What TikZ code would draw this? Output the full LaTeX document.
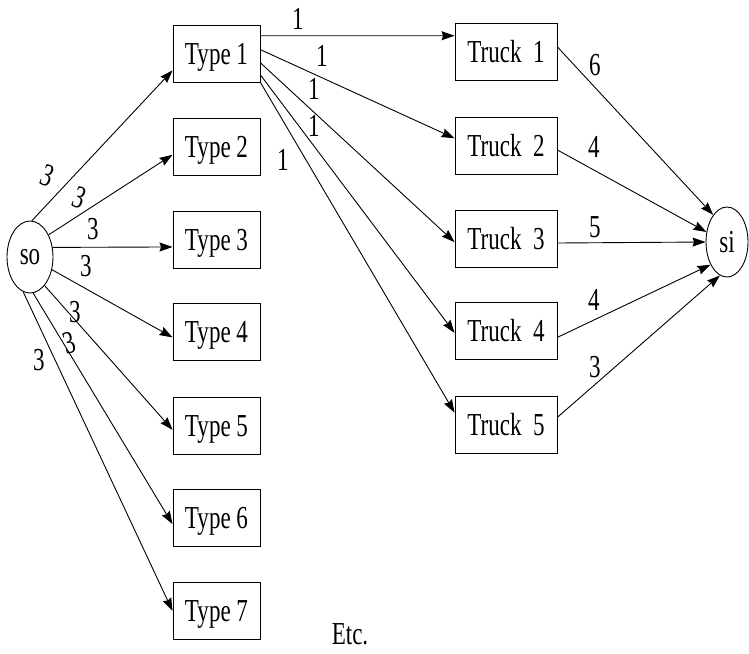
\documentclass[tikz,border=0pt]{standalone}
\usepackage{fontspec}
\setmainfont{Liberation Serif}[FakeStretch=0.72]
\usetikzlibrary{shapes.geometric,arrows.meta}

\begin{document}
\begin{tikzpicture}[x=1pt,y=-1pt,
  font=\fontsize{32}{34}\selectfont,
  typebox/.style={draw,line width=0.9pt,minimum width=87pt,minimum height=57pt,inner sep=0pt,text depth=0pt},
  truckbox/.style={draw,line width=0.9pt,minimum width=102pt,minimum height=57pt,inner sep=0pt},
  endpt/.style={draw,ellipse,line width=0.9pt,inner sep=0pt},
  weight/.style={inner sep=0pt},
  arr/.style={-{Stealth[length=13pt,width=9pt,inset=1.5pt]},line width=0.9pt}]
\useasboundingbox (0,0) rectangle (749,653);

% Source and sink
\node[endpt,minimum width=46pt,minimum height=72pt] (so) at (30,257) {so};
\node[endpt,minimum width=42pt,minimum height=70pt] (si) at (727,242) {si};

% Vehicle types
\node[typebox] (type1) at (216.5,53.5) {Type 1};
\node[typebox] (type2) at (216.5,147) {Type 2};
\node[typebox] (type3) at (216.5,240) {Type 3};
\node[typebox] (type4) at (216.5,332) {Type 4};
\node[typebox] (type5) at (216.5,426) {Type 5};
\node[typebox] (type6) at (216.5,518) {Type 6};
\node[typebox] (type7) at (216.5,611) {Type 7};

% Trucks
\node[truckbox] (truck1) at (506,51.5) {Truck~~1};
\node[truckbox] (truck2) at (506,145.5) {Truck~~2};
\node[truckbox] (truck3) at (506,238.5) {Truck~~3};
\node[truckbox] (truck4) at (506,331) {Truck~~4};
\node[truckbox] (truck5) at (506,424.5) {Truck~~5};

% Source to types
\draw[arr] (so.87) -- (type1.201);
\draw[arr] (so.50) -- (type2.190);
\draw[arr] (so.23) -- (type3.189);
\draw[arr] (so.330) -- (type4.187);
\draw[arr] (so.297) -- (type5.185);
\draw[arr] (so.275) -- (type6.188);
\draw[arr] (so.259) -- (type7.west);

% Type 1 to trucks
\draw[arr] (type1.22) -- (truck1.163);
\draw[arr] (type1.5) -- (truck2.172);
\draw[arr] (type1.-12) -- (truck3.184);
\draw[arr] (type1.-26) -- (truck4.182);
\draw[arr] (type1.south east) -- (truck5.167);

% Trucks to sink
\draw[arr] (truck1.5) -- (si.117);
\draw[arr] (truck2.-5) -- (si.154);
\draw[arr] (truck3.-5) -- (si.180);
\draw[arr] (truck4.-7) -- (si.234);
\draw[arr] (truck5.8) -- (si.258);

% Capacities
\node[weight,rotate=-20] (a1) at (47,176) {3};
\node[weight,rotate=-20] (a2) at (79,198) {3};
\node[weight] (a3) at (93,229) {3};
\node[weight] (a4) at (86,266) {3};
\node[weight] (a5) at (75,312) {3};
\node[weight,rotate=15] (a6) at (69,343) {3};
\node[weight] (a7) at (39,360) {3};

\node[weight] (b1) at (298,19) {1};
\node[weight] (b2) at (322,56) {1};
\node[weight] (b3) at (314,89) {1};
\node[weight] (b4) at (314,126) {1};
\node[weight] (b5) at (283,160) {1};

\node[weight] (c1) at (595,65) {6};
\node[weight] (c2) at (594,147) {4};
\node[weight] (c3) at (595,227) {5};
\node[weight] (c4) at (594,300) {4};
\node[weight] (c5) at (595,367) {3};

\node (etc) at (350,634) {Etc.};
\end{tikzpicture}
\end{document}
